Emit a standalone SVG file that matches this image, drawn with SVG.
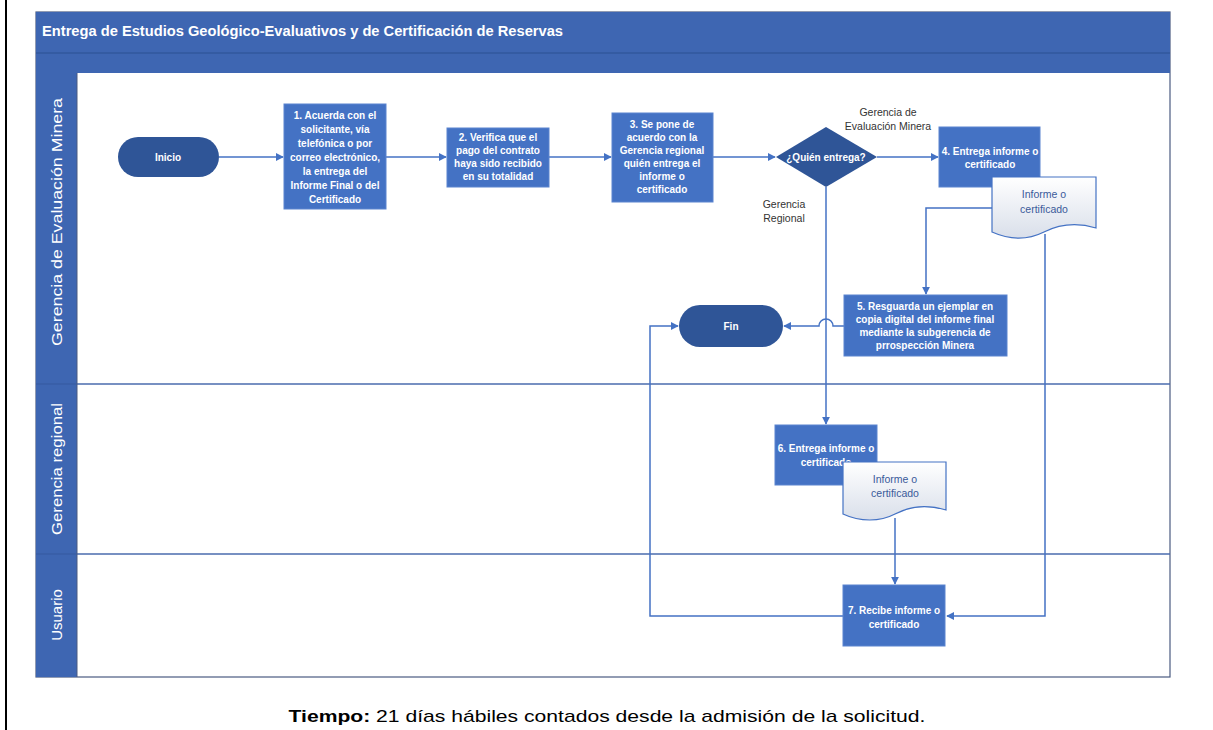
<svg xmlns="http://www.w3.org/2000/svg" width="1213" height="730" viewBox="0 0 1213 730">
<defs>
  <marker id="arr" viewBox="0 0 10 10" refX="9" refY="5" markerWidth="8" markerHeight="8" markerUnits="userSpaceOnUse" orient="auto">
    <path d="M0,0 L10,5 L0,10 Z" fill="#4472C4"/>
  </marker>
  <linearGradient id="docg" x1="0" y1="0" x2="0" y2="1">
    <stop offset="0" stop-color="#ffffff"/>
    <stop offset="1" stop-color="#d9dfea"/>
  </linearGradient>
  <style>
    .band{fill:#3E66B2}
    .box{fill:#4472C4;stroke:#5a84cf;stroke-width:1}
    .term{fill:#2F5597}
    .bt{font-family:"Liberation Sans",Arial,sans-serif;font-size:10px;font-weight:bold;fill:#ffffff;text-anchor:middle}
    .lbl{font-family:"Liberation Sans",Arial,sans-serif;font-size:10.5px;fill:#333333;text-anchor:middle}
    .dt{font-family:"Liberation Sans",Arial,sans-serif;font-size:10.5px;fill:#3a5a9a;text-anchor:middle}
    .lane{font-family:"Liberation Sans",Arial,sans-serif;font-size:15px;fill:#ffffff;text-anchor:middle}
    .conn{fill:none;stroke:#4472C4;stroke-width:1.5}
    .doc{fill:url(#docg);stroke:#4472C4;stroke-width:1.2}
  </style>
</defs>
<rect x="0" y="0" width="1213" height="730" fill="#ffffff"/>
<line x1="6" y1="0" x2="6" y2="730" stroke="#000000" stroke-width="2"/>

<g id="frame">
  <rect x="36" y="12" width="1134" height="665" fill="#ffffff" stroke="#4a5a80" stroke-width="1.2"/>
  <rect class="band" x="36" y="12" width="1134" height="61"/>
  <line x1="36" y1="53" x2="1170" y2="53" stroke="#32589c" stroke-width="1.5"/>
  <text x="42" y="36" font-family="'Liberation Sans',Arial,sans-serif" font-size="14" font-weight="bold" fill="#ffffff" textLength="521" lengthAdjust="spacingAndGlyphs">Entrega de Estudios Geológico-Evaluativos y de Certificación de Reservas</text>
  <rect class="band" x="36" y="73" width="41" height="604"/>
  <line x1="36" y1="384" x2="77" y2="384" stroke="#34599f" stroke-width="1"/>
  <line x1="36" y1="554" x2="77" y2="554" stroke="#34599f" stroke-width="1"/>
  <line x1="77" y1="384" x2="1170" y2="384" stroke="#4A6BAE" stroke-width="1.5"/>
  <line x1="77" y1="554" x2="1170" y2="554" stroke="#4A6BAE" stroke-width="1.5"/>
  <line x1="77" y1="73" x2="77" y2="677" stroke="#4a5a80" stroke-width="1"/>
</g>

<g id="lanes">
  <text class="lane" transform="translate(62,222) rotate(-90)" textLength="248" lengthAdjust="spacingAndGlyphs">Gerencia de Evaluación Minera</text>
  <text class="lane" transform="translate(62,469) rotate(-90)" textLength="132" lengthAdjust="spacingAndGlyphs">Gerencia regional</text>
  <text class="lane" transform="translate(62,615) rotate(-90)">Usuario</text>
</g>

<g id="connectors">
  <path class="conn" d="M219,157 H283" marker-end="url(#arr)"/>
  <path class="conn" d="M386,157 H446" marker-end="url(#arr)"/>
  <path class="conn" d="M549,157 H611" marker-end="url(#arr)"/>
  <path class="conn" d="M713,157 H775" marker-end="url(#arr)"/>
  <path class="conn" d="M877,157 H938" marker-end="url(#arr)"/>
  <path class="conn" d="M826,187 V424" marker-end="url(#arr)"/>
  <path class="conn" d="M992,208 H926 V294" marker-end="url(#arr)"/>
  <path class="conn" d="M1045,234 V616 H947" marker-end="url(#arr)"/>
  <path class="conn" d="M844,326 H833 A7,7 0 0 0 819,326 H784" marker-end="url(#arr)"/>
  <path class="conn" d="M843,616 H650 V326 H678" marker-end="url(#arr)"/>
  <path class="conn" d="M895,518 V584" marker-end="url(#arr)"/>
</g>

<g id="inicio">
  <rect class="term" x="118" y="137" width="101" height="40" rx="20"/>
  <text class="bt" x="168" y="161" font-weight="normal">Inicio</text>
</g>

<g id="n1">
  <rect class="box" x="284" y="104" width="102" height="105"/>
  <text class="bt" x="335" y="119">1. Acuerda con el</text>
  <text class="bt" x="335" y="133">solicitante, vía</text>
  <text class="bt" x="335" y="147">telefónica o por</text>
  <text class="bt" x="335" y="161">correo electrónico,</text>
  <text class="bt" x="335" y="175">la entrega del</text>
  <text class="bt" x="335" y="189">Informe Final o del</text>
  <text class="bt" x="335" y="203">Certificado</text>
</g>

<g id="n2">
  <rect class="box" x="447" y="128" width="102" height="59"/>
  <text class="bt" x="498" y="141">2. Verifica que el</text>
  <text class="bt" x="498" y="154">pago del contrato</text>
  <text class="bt" x="498" y="167">haya sido recibido</text>
  <text class="bt" x="498" y="180">en su totalidad</text>
</g>

<g id="n3">
  <rect class="box" x="612" y="113" width="101" height="89"/>
  <text class="bt" x="662" y="128">3. Se pone de</text>
  <text class="bt" x="662" y="141">acuerdo con la</text>
  <text class="bt" x="662" y="154">Gerencia regional</text>
  <text class="bt" x="662" y="167">quién entrega el</text>
  <text class="bt" x="662" y="180">informe o</text>
  <text class="bt" x="662" y="193">certificado</text>
</g>

<g id="decision">
  <polygon class="term" points="826,127 877,157 826,187 776,157"/>
  <text class="bt" x="826" y="161" font-weight="normal">¿Quién entrega?</text>
  <text class="lbl" x="888" y="116">Gerencia de</text>
  <text class="lbl" x="888" y="130">Evaluación Minera</text>
  <text class="lbl" x="784" y="208">Gerencia</text>
  <text class="lbl" x="784" y="222">Regional</text>
</g>

<g id="n4">
  <rect class="box" x="939" y="127" width="101" height="60"/>
  <text class="bt" x="990" y="155">4. Entrega informe o</text>
  <text class="bt" x="990" y="168">certificado</text>
</g>

<g id="doc1">
  <path class="doc" d="M992,177 H1096 V228 C1076,222 1060,224 1044,232 C1028,240 1010,240 992,232 Z"/>
  <text class="dt" x="1044" y="198">Informe o</text>
  <text class="dt" x="1044" y="213">certificado</text>
</g>

<g id="n5">
  <rect class="box" x="844" y="295" width="163" height="61"/>
  <text class="bt" x="925" y="310">5. Resguarda un ejemplar en</text>
  <text class="bt" x="925" y="323">copia digital del informe final</text>
  <text class="bt" x="925" y="336">mediante la subgerencia de</text>
  <text class="bt" x="925" y="349">prrospección Minera</text>
</g>

<g id="fin">
  <rect class="term" x="679" y="305" width="104" height="42" rx="21"/>
  <text class="bt" x="731" y="330" font-weight="normal">Fin</text>
</g>

<g id="n6">
  <rect class="box" x="775" y="425" width="102" height="60"/>
  <text class="bt" x="826" y="452">6. Entrega informe o</text>
  <text class="bt" x="826" y="466">certificado</text>
</g>

<g id="doc2">
  <path class="doc" d="M843,462 H946 V510 C926,504 910,506 895,514 C880,522 860,522 843,514 Z"/>
  <text class="dt" x="895" y="483">Informe o</text>
  <text class="dt" x="895" y="497">certificado</text>
</g>

<g id="n7">
  <rect class="box" x="843" y="585" width="102" height="61"/>
  <text class="bt" x="894" y="614">7. Recibe informe o</text>
  <text class="bt" x="894" y="628">certificado</text>
</g>

<g id="footer">
  <text x="607" y="722" font-family="'Liberation Sans',Arial,sans-serif" font-size="17" fill="#000000" text-anchor="middle" textLength="637" lengthAdjust="spacingAndGlyphs"><tspan font-weight="bold">Tiempo:</tspan> 21 días hábiles contados desde la admisión de la solicitud.</text>
</g>
</svg>
